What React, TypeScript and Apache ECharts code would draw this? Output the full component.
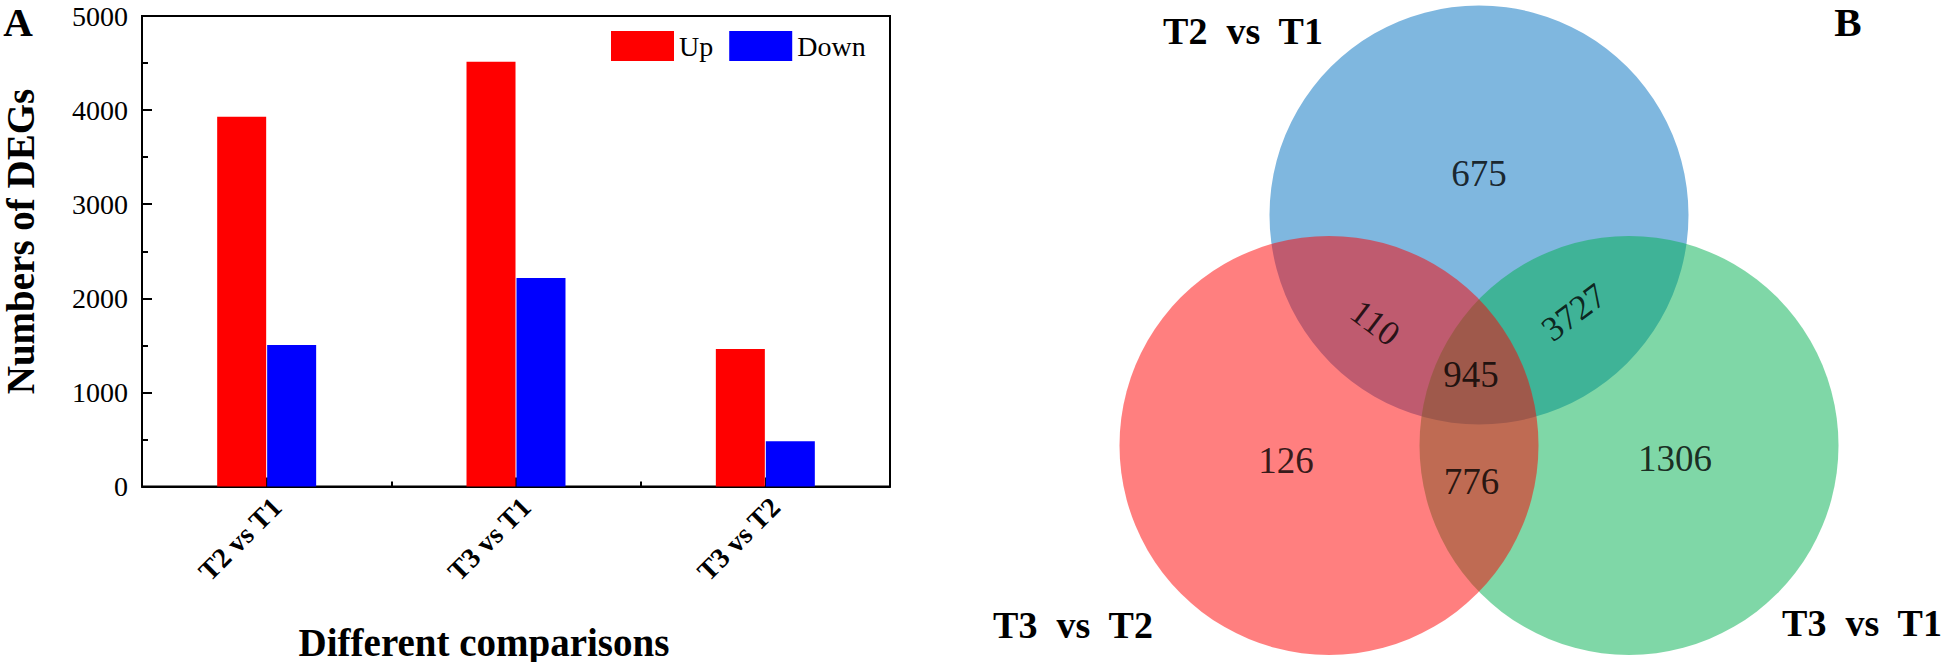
import React, { useEffect, useRef } from 'react';
import * as echarts from 'echarts';

// ---------- Panel A data ----------
const categories = ['T2 vs T1', 'T3 vs T1', 'T3 vs T2'];
const upValues = [3930, 4515, 1460];
const downValues = [1505, 2215, 480];
const seriesNames = ['Up', 'Down'];
const yMin = 0;
const yMax = 5000;
const yInterval = 1000;

// ---------- Panel B data ----------
// circles in draw order: T2 vs T1 (blue), T3 vs T1 (green), T3 vs T2 (red)
const vennSetNames = ['T2  vs  T1', 'T3  vs  T1', 'T3  vs  T2'];
const vennCounts = [675, 110, 3727, 945, 126, 776, 1306];

// ---------- layout (venn coordinate system, unit = circle radius) ----------
const vennCenters = [
  [0, 1.1],
  [0.716, 0],
  [-0.716, 0],
];
const vennRadius = 1;
const vennCountPos = [
  [0, 1.296],
  [-0.496, 0.585],
  [0.453, 0.635],
  [-0.038, 0.341],
  [-0.921, -0.073],
  [-0.036, -0.174],
  [0.936, -0.06],
];
const vennCountRotate = [0, -37, 37, 0, 0, 0, 0];
const vennFills = ['rgba(0,112,192,0.5)', 'rgba(0,176,80,0.5)', 'rgba(255,0,0,0.5)'];
const vennSetLabelPos = [
  [1243, 31],
  [1862, 623],
  [1073, 625],
];

const FONT = '"Liberation Serif", "Times New Roman", serif';

export default function App() {
  const ref = useRef<HTMLDivElement>(null);

  useEffect(() => {
    if (!ref.current) return;
    const chart = echarts.init(ref.current, undefined, { renderer: 'svg' });

    const option: any = {
      animation: false,
      backgroundColor: '#ffffff',
      textStyle: { fontFamily: FONT },
      legend: {
        data: seriesNames,
        left: 611,
        top: 31,
        padding: 0,
        itemWidth: 63,
        itemHeight: 30,
        itemGap: 16,
        icon: 'rect',
        textStyle: { fontSize: 28, fontFamily: FONT, color: '#000' },
      },
      grid: [
        { left: 142, top: 16, width: 748, height: 470.5, show: true, borderColor: '#000', borderWidth: 2, containLabel: false },
        { left: 1119.5, top: 5.5, width: 719, height: 649.45, show: false, containLabel: false },
      ],
      xAxis: [
        {
          type: 'category',
          gridIndex: 0,
          data: categories,
          position: 'bottom',
          boundaryGap: true,
          axisLine: { show: true, lineStyle: { color: '#000', width: 2 } },
          axisTick: { show: true, alignWithLabel: true, inside: true, length: 9, lineStyle: { color: '#000', width: 2 } },
          axisLabel: {
            interval: 0,
            rotate: 45,
            margin: 6,
            verticalAlign: 'top',
            fontSize: 28,
            fontWeight: 'bold',
            fontFamily: FONT,
            color: '#000',
          },
          splitLine: { show: false },
        },
        {
          type: 'category',
          gridIndex: 0,
          data: categories,
          position: 'bottom',
          boundaryGap: true,
          axisLine: { show: false },
          axisTick: { show: true, inside: true, length: 5, interval: 0, lineStyle: { color: '#000', width: 2 } },
          axisLabel: { show: false },
          splitLine: { show: false },
        },
        { type: 'value', gridIndex: 1, min: -1.716, max: 1.716, show: false },
      ],
      yAxis: [
        {
          type: 'value',
          gridIndex: 0,
          min: yMin,
          max: yMax,
          interval: yInterval,
          axisLine: { show: true, lineStyle: { color: '#000', width: 2 } },
          axisTick: { show: true, inside: true, length: 10, lineStyle: { color: '#000', width: 2 } },
          minorTick: { show: true, splitNumber: 2, length: 6, lineStyle: { color: '#000', width: 2 } },
          axisLabel: {
            fontSize: 28,
            margin: 14,
            color: '#000',
            fontFamily: FONT,
            formatter: (v: number) => String(v),
          },
          splitLine: { show: false },
        },
        { type: 'value', gridIndex: 1, min: -1, max: 2.1, show: false },
      ],
      series: [
        {
          name: seriesNames[0],
          type: 'bar',
          xAxisIndex: 0,
          yAxisIndex: 0,
          data: upValues,
          barWidth: 49,
          barGap: '2%',
          itemStyle: { color: '#ff0000' },
        },
        {
          name: seriesNames[1],
          type: 'bar',
          xAxisIndex: 0,
          yAxisIndex: 0,
          data: downValues,
          barWidth: 49,
          barGap: '2%',
          itemStyle: { color: '#0000ff' },
        },
        {
          type: 'custom',
          xAxisIndex: 2,
          yAxisIndex: 1,
          z: 2,
          silent: true,
          data: vennCenters.map((c, i) => ({ name: vennSetNames[i], value: [c[0], c[1], vennRadius] })),
          renderItem: (params: any, api: any) => {
            const c = api.coord([api.value(0), api.value(1)]);
            const r = api.size([api.value(2), 0])[0];
            return {
              type: 'circle',
              shape: { cx: c[0], cy: c[1], r },
              style: { fill: vennFills[params.dataIndex], stroke: 'none' },
            };
          },
        },
        {
          type: 'scatter',
          xAxisIndex: 2,
          yAxisIndex: 1,
          z: 5,
          silent: true,
          symbolSize: 1,
          itemStyle: { color: 'rgba(0,0,0,0)' },
          label: {
            show: true,
            position: 'inside',
            color: '#000',
            fontFamily: FONT,
            fontSize: 37,
            formatter: (p: any) => String(p.value[2]),
          },
          data: vennCounts.map((v, i) => ({
            value: [vennCountPos[i][0], vennCountPos[i][1], v],
            label: { rotate: vennCountRotate[i], fontSize: vennCountRotate[i] !== 0 ? 35 : 37 },
          })),
        },
      ],
      graphic: [
        {
          type: 'text',
          x: 18,
          y: 22,
          style: { text: 'A', fontSize: 41, fontWeight: 'bold', fontFamily: FONT, fill: '#000', align: 'center', verticalAlign: 'middle' },
        },
        {
          type: 'text',
          x: 20,
          y: 241.5,
          rotation: Math.PI / 2,
          style: { text: 'Numbers of DEGs', fontSize: 39, fontWeight: 'bold', fontFamily: FONT, fill: '#000', align: 'center', verticalAlign: 'middle' },
        },
        {
          type: 'text',
          x: 484,
          y: 642,
          style: { text: 'Different comparisons', fontSize: 39, fontWeight: 'bold', fontFamily: FONT, fill: '#000', align: 'center', verticalAlign: 'middle' },
        },
        {
          type: 'text',
          x: 1848,
          y: 22,
          style: { text: 'B', fontSize: 41, fontWeight: 'bold', fontFamily: FONT, fill: '#000', align: 'center', verticalAlign: 'middle' },
        },
        ...vennSetNames.map((name, i) => ({
          type: 'text',
          x: vennSetLabelPos[i][0],
          y: vennSetLabelPos[i][1],
          style: { text: name, fontSize: 38, fontWeight: 'bold', fontFamily: FONT, fill: '#000', align: 'center', verticalAlign: 'middle' },
        })),
      ],
    };

    chart.setOption(option);
    return () => {
      chart.dispose();
    };
  }, []);

  return (
    <div
      ref={ref}
      style={{ position: 'fixed', left: 0, top: 0, width: 1944, height: 662, background: '#fff' }}
    />
  );
}
